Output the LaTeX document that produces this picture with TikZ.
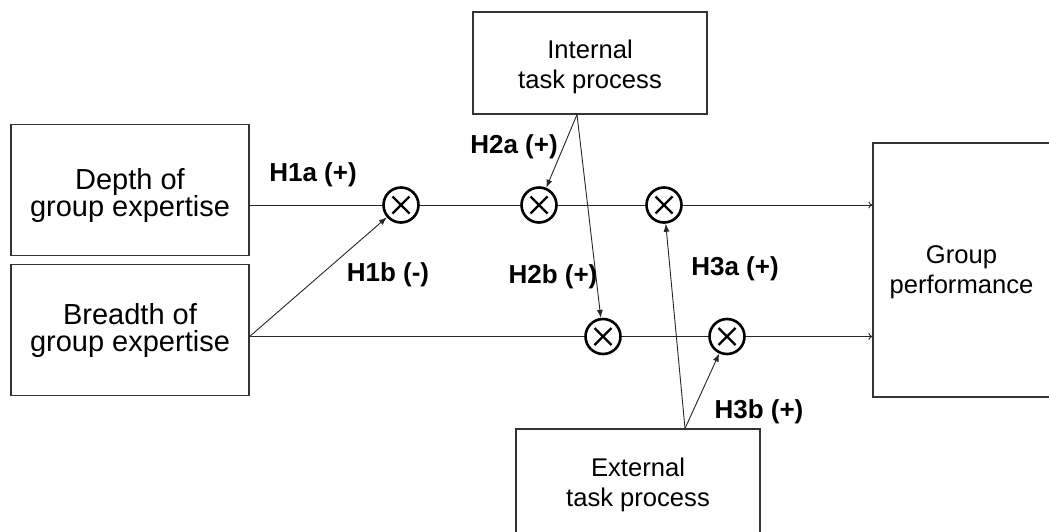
\documentclass[tikz,border=0pt]{standalone}
\usepackage{fontspec}
\setmainfont{Liberation Sans}
\usetikzlibrary{arrows.meta}
\pgfdeclarelayer{bg}
\pgfsetlayers{bg,main}
\begin{document}
\begin{tikzpicture}[x=1pt,y=-1pt,
  box/.style={draw=black!80, line width=1.2pt, rectangle, inner sep=0pt, align=center, text depth=5pt},
  bigtext/.style={font=\fontsize{29}{27.4}\selectfont},
  smalltext/.style={font=\fontsize{25.6}{30}\selectfont},
  hyp/.style={font=\fontsize{26}{30}\selectfont\bfseries, inner sep=0pt},
  mult/.style={circle, draw=black, line width=2.6pt, minimum size=35pt, inner sep=0pt, fill=white,
    path picture={\draw[line width=2.4pt]
      ([shift={(-8.5pt,-8.5pt)}]path picture bounding box.center) -- ([shift={(8.5pt,8.5pt)}]path picture bounding box.center)
      ([shift={(-8.5pt,8.5pt)}]path picture bounding box.center) -- ([shift={(8.5pt,-8.5pt)}]path picture bounding box.center);}},
  flow/.style={line width=0.9pt, draw=black!85, -{To[length=4pt,width=7pt]}},
  link/.style={line width=0.9pt, draw=black!85, -{Latex[length=8pt,width=6pt]}},
]
\useasboundingbox (0,0) rectangle (1049,531);

% variables and moderators (text height sets where the last line sits)
\node[box, bigtext, minimum width=238pt, minimum height=131pt, text height=57.4pt] (depth) at (130,190.3) {Depth of\\group expertise};
\node[box, bigtext, minimum width=238pt, minimum height=131pt, text height=47.4pt] (breadth) at (130,330.3) {Breadth of\\group expertise};
\node[box, smalltext, minimum width=234pt, minimum height=102pt, text height=55.6pt] (int) at (590,63) {Internal\\task process};
\node[box, smalltext, minimum width=244pt, minimum height=116pt, text height=44.4pt] (ext) at (638,487) {External\\task process};
\node[box, smalltext, minimum width=177pt, minimum height=254pt, text height=51.6pt] (perf) at (961.5,270) {Group\\performance};

% interaction terms
\node[mult] (m1) at (401,205) {};
\node[mult] (m2) at (539,205) {};
\node[mult] (m3) at (664,205) {};
\node[mult] (m4) at (603,336.5) {};
\node[mult] (m5) at (727,336.5) {};

% paths
\begin{pgfonlayer}{bg}
\draw[flow] (depth.east |- m1) -- (perf.west |- m1);
\draw[flow] (breadth.east |- m4) -- (perf.west |- m4);
\end{pgfonlayer}
\draw[link] (breadth.east |- m4) -- (m1);
\draw[link] ([xshift=-13pt]int.south) -- (m2);
\draw[link] ([xshift=-13pt]int.south) -- (m4);
\draw[link] ([xshift=47pt]ext.north) -- (m3);
\draw[link] ([xshift=47pt]ext.north) -- (m5);

% hypothesis labels
\node[hyp, anchor=base] (h1a) at (313,181) {H1a (+)};
\node[hyp, anchor=base] (h1b) at (388,281) {H1b (-)};
\node[hyp, anchor=base] (h2a) at (514,153) {H2a (+)};
\node[hyp, anchor=base] (h2b) at (553,283) {H2b (+)};
\node[hyp, anchor=base] (h3a) at (735,275) {H3a (+)};
\node[hyp, anchor=base] (h3b) at (759,418) {H3b (+)};
\end{tikzpicture}
\end{document}
